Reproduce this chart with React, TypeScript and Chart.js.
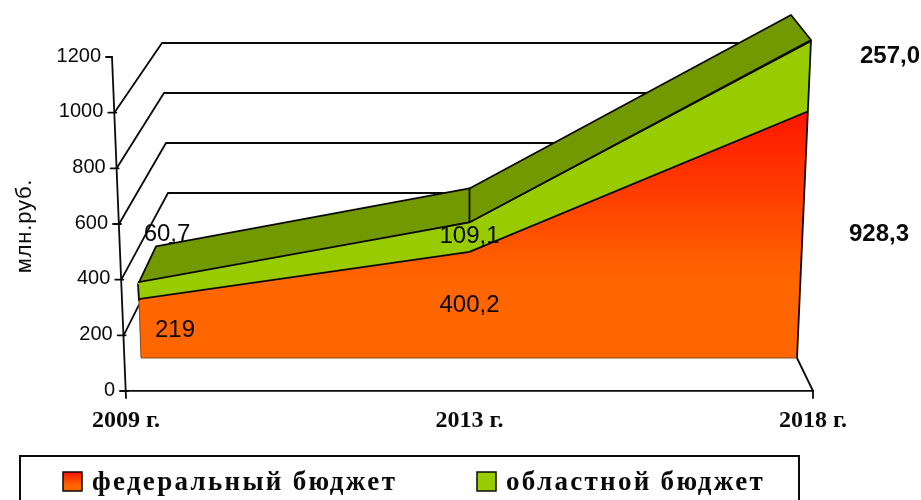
import React, { useEffect, useRef } from "react";
import { Chart, registerables } from "chart.js";

Chart.register(...registerables);

const categories = ["2009 г.", "2013 г.", "2018 г."];
const federalValues = [219, 400.2, 928.3];
const regionalValues = [60.7, 109.1, 257.0];
const federalText = ["219", "400,2", "928,3"];
const regionalText = ["60,7", "109,1", "257,0"];
const seriesNames = ["федеральный бюджет", "областной бюджет"];
const yTickValues = [0, 200, 400, 600, 800, 1000, 1200];
const axisTitle = "млн.руб.";

const SANS = '"Liberation Sans", Arial, sans-serif';
const SERIF = '"Liberation Serif", "Times New Roman", serif';
const ORANGE = "#FF6600";
const RED = "#FF1500";
const GREEN = "#99CC00";
const DARK = "#739900";
const INK = "#0A0A0A";

const depth3d: any = {
  id: "depth3d",
  beforeDatasetsDraw(chart: any) {
    const { ctx, chartArea: a, scales } = chart;
    const yAxis = scales.y;
    const yData = scales.yData;
    const xAxis = scales.x;
    const slantX = (v: number) => a.left - 14 * (v / 1200);

    ctx.save();
    ctx.strokeStyle = INK;
    ctx.lineCap = "round";

    // slanted side wall and back wall grid
    ctx.lineWidth = 1.8;
    for (const v of yTickValues) {
      if (v === 0 || v === 1200) continue;
      const fx = slantX(v);
      const fy = yAxis.getPixelForValue(v);
      const bx = 162 + (1000 - v) * 0.01;
      const by = 43 + (1000 - v) * 0.25;
      ctx.beginPath();
      ctx.moveTo(fx, fy);
      ctx.lineTo(bx, by);
      ctx.lineTo(800, by);
      ctx.stroke();
    }

    // floor edge on the right
    ctx.beginPath();
    ctx.moveTo(a.right, a.bottom);
    ctx.lineTo(797, 358);
    ctx.stroke();

    // slanted value axis
    ctx.lineWidth = 1.8;
    ctx.beginPath();
    ctx.moveTo(slantX(1200), yAxis.getPixelForValue(1200));
    ctx.lineTo(a.left, a.bottom + 7);
    ctx.stroke();
    for (const v of yTickValues) {
      const fx = slantX(v);
      const fy = yAxis.getPixelForValue(v);
      ctx.beginPath();
      ctx.moveTo(fx - 6, fy);
      ctx.lineTo(fx + (v === 1200 ? 0 : 2), fy);
      ctx.stroke();
    }
    // end ticks of the category axis
    ctx.beginPath();
    ctx.moveTo(a.right, a.bottom);
    ctx.lineTo(a.right, a.bottom + 7);
    ctx.stroke();

    // top face of the stack
    const totals = federalValues.map((v, i) => v + regionalValues[i]);
    const frontX = [138, xAxis.getPixelForValue(1), 811];
    const backOffset = [
      [18, -38],
      [0, -34],
      [-20, -25],
    ];
    const front = totals.map((t, i) => [frontX[i], yData.getPixelForValue(t)]);
    const back = front.map((p, i) => [p[0] + backOffset[i][0], p[1] + backOffset[i][1]]);
    ctx.fillStyle = DARK;
    ctx.lineWidth = 1.8;
    ctx.lineJoin = "round";
    ctx.beginPath();
    front.forEach((p, i) => (i ? ctx.lineTo(p[0], p[1]) : ctx.moveTo(p[0], p[1])));
    [...back].reverse().forEach((p) => ctx.lineTo(p[0], p[1]));
    ctx.closePath();
    ctx.fill();
    ctx.stroke();
    ctx.beginPath();
    ctx.moveTo(front[1][0], front[1][1]);
    ctx.lineTo(back[1][0], back[1][1]);
    ctx.stroke();
    ctx.restore();

    // front face narrows toward the floor
    ctx.save();
    ctx.beginPath();
    ctx.moveTo(141, 358);
    ctx.lineTo(a.left, 0);
    ctx.lineTo(a.right, 0);
    ctx.lineTo(797, 358);
    ctx.closePath();
    ctx.clip();
  },
  afterDatasetsDraw(chart: any) {
    const { ctx, scales } = chart;
    const yData = scales.yData;
    ctx.restore();
    ctx.save();
    const leftTop = yData.getPixelForValue(federalValues[0] + regionalValues[0]);
    const rightTop = yData.getPixelForValue(federalValues[2] + regionalValues[2]);
    const leftMid = yData.getPixelForValue(federalValues[0]);
    ctx.lineWidth = 1.8;
    ctx.strokeStyle = INK;
    ctx.beginPath();
    ctx.moveTo(797, 358);
    ctx.lineTo(811, rightTop);
    ctx.stroke();
    ctx.beginPath();
    ctx.moveTo(138, leftTop);
    ctx.lineTo(139, leftMid);
    ctx.stroke();
    ctx.strokeStyle = "#8A4A1A";
    ctx.lineWidth = 1;
    ctx.beginPath();
    ctx.moveTo(139, leftMid);
    ctx.lineTo(141, 358);
    ctx.lineTo(797, 358);
    ctx.stroke();
    ctx.restore();
  },
  afterDraw(chart: any) {
    const { ctx, scales, chartArea: a } = chart;
    const yAxis = scales.y;
    const slantX = (v: number) => a.left - 14 * (v / 1200);
    ctx.save();
    ctx.fillStyle = INK;
    ctx.textBaseline = "middle";

    // value axis labels follow the slanted axis
    ctx.font = `20px ${SANS}`;
    ctx.textAlign = "right";
    for (const v of yTickValues) {
      ctx.fillText(String(v), slantX(v) - 11, yAxis.getPixelForValue(v) - 1);
    }

    ctx.save();
    ctx.translate(25, 226);
    ctx.rotate(-Math.PI / 2);
    ctx.textAlign = "center";
    ctx.font = `22px ${SANS}`;
    (ctx as any).letterSpacing = "0.8px";
    ctx.fillText(axisTitle, 0, 0);
    (ctx as any).letterSpacing = "0px";
    ctx.restore();

    // value labels
    ctx.textAlign = "center";
    ctx.font = `24px ${SANS}`;
    ctx.fillText(federalText[0], 175, 330);
    ctx.fillText(federalText[1], 469.5, 305);
    ctx.fillText(regionalText[0], 167, 234);
    ctx.fillText(regionalText[1], 469.5, 236);
    ctx.font = `bold 24px ${SANS}`;
    ctx.fillText(federalText[2], 879, 234);
    ctx.fillText(regionalText[2], 890, 56);

    // legend
    ctx.strokeStyle = INK;
    ctx.lineWidth = 2;
    ctx.strokeRect(20, 456, 779, 60);
    const swatchX = [63, 477];
    const swatchFill = [0, 1];
    swatchFill.forEach((s, i) => {
      const g = ctx.createLinearGradient(0, 472, 0, 491);
      g.addColorStop(0, s === 0 ? RED : GREEN);
      g.addColorStop(s === 0 ? 0.7 : 1, s === 0 ? ORANGE : GREEN);
      ctx.fillStyle = g;
      ctx.fillRect(swatchX[i], 472, 19, 19);
      ctx.lineWidth = 1.5;
      ctx.strokeRect(swatchX[i], 472, 19, 19);
      ctx.fillStyle = INK;
      ctx.textAlign = "left";
      ctx.font = `bold 27px ${SERIF}`;
      (ctx as any).letterSpacing = "2.3px";
      ctx.fillText(seriesNames[i], swatchX[i] + 29, 483);
      (ctx as any).letterSpacing = "0px";
    });
    ctx.restore();
  },
};

export default function App() {
  const ref = useRef<HTMLCanvasElement>(null);
  useEffect(() => {
    const chart = new Chart(ref.current as HTMLCanvasElement, {
      type: "line",
      data: {
        labels: categories,
        datasets: [
          {
            label: seriesNames[0],
            data: federalValues,
            yAxisID: "yData",
            fill: "origin",
            clip: false,
            tension: 0,
            pointRadius: 0,
            borderColor: INK,
            borderWidth: 1.8,
            backgroundColor: (c: any) => {
              const chartRef = c.chart;
              const y = chartRef.scales.yData;
              if (!y || !chartRef.chartArea) return ORANGE;
              const y0 = y.getPixelForValue(300);
              const y1 = y.getPixelForValue(928.3);
              if (!Number.isFinite(y0) || !Number.isFinite(y1)) return ORANGE;
              const g = chartRef.ctx.createLinearGradient(0, y0, 0, y1);
              g.addColorStop(0, ORANGE);
              g.addColorStop(1, RED);
              return g;
            },
          },
          {
            label: seriesNames[1],
            data: regionalValues,
            yAxisID: "yData",
            fill: "-1",
            clip: false,
            tension: 0,
            pointRadius: 0,
            borderColor: INK,
            borderWidth: 1.8,
            backgroundColor: GREEN,
          },
        ],
      },
      options: {
        animation: false,
        responsive: false,
        layout: { padding: { left: 126, right: 108, top: 0, bottom: 69 } },
        plugins: { legend: { display: false }, tooltip: { enabled: false }, title: { display: false } },
        scales: {
          x: {
            type: "category",
            offset: false,
            grid: { display: false, drawTicks: false },
            border: { display: true, color: INK, width: 1.8 },
            ticks: {
              color: INK,
              font: { family: SERIF, size: 24, weight: "bold" },
              padding: 15,
              maxRotation: 0,
              autoSkip: false,
            },
            afterFit: (s: any) => {
              s.height = 40;
            },
          },
          y: {
            type: "linear",
            display: false,
            bounds: "data",
            min: 0,
            max: 1404.8,
            afterBuildTicks: (s: any) => {
              s.ticks = yTickValues.map((value) => ({ value }));
            },
          },
          yData: {
            type: "linear",
            display: false,
            bounds: "data",
            stacked: true,
            min: -114.8,
            max: 1333.3,
          },
        },
      } as any,
      plugins: [depth3d],
    });
    return () => chart.destroy();
  }, []);
  return (
    <div style={{ position: "fixed", left: 0, top: 0, width: 921, height: 500, background: "#fff" }}>
      <canvas ref={ref} width={921} height={500} style={{ display: "block" }} />
    </div>
  );
}
